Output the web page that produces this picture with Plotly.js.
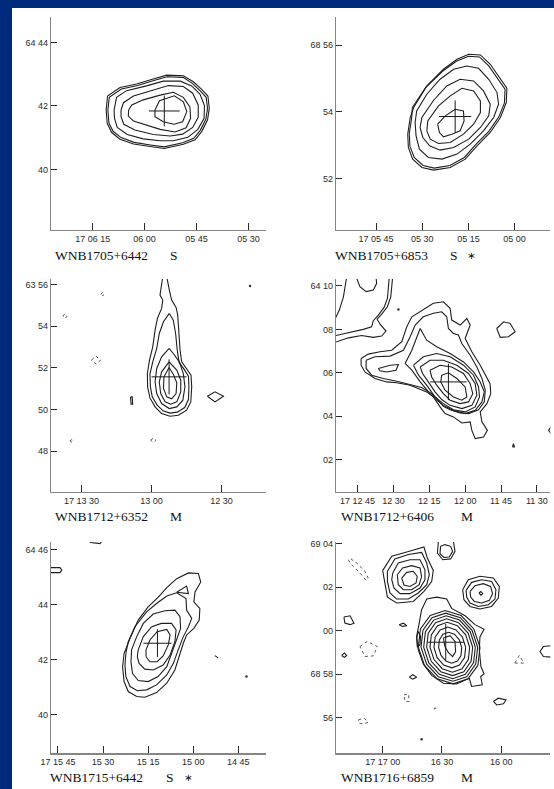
<!DOCTYPE html>
<html><head><meta charset="utf-8">
<script src="https://cdn.plot.ly/plotly-3.0.1.min.js"></script>
<style>html,body{margin:0;padding:0;background:#002a7c;}#chart{width:554px;height:789px;}</style>
</head><body><div id="chart"></div>
<script>
// ===================== DATA (RA in seconds after 17h00m, Dec in arcmin) =====================
// Panel 1: WNB1705+6442 S   (Dec arcmin after 64°00')
const p1Name = "WNB1705+6442", p1Class = "S";
const p1RaTicks = [375,360,345,330], p1RaText = ["17 06 15","06 00","05 45","05 30"];
const p1DecTicks = [44,42,40], p1DecText = ["64 44","42","40"];
const p1TopTicks = [371.6,356.8,341.9,327.1], p1RightTicks = [43.58,41.56,39.56];
const p1Ra = [
 [371.1,370.7,367.1,362.3,357.5,353.6,348.8,345.9,343.5,341.7,341.3,341.8,343.5,345.4,348.8,354.3,358.4,363.2,367.1,369.5,370.8],
 [370.6,370.2,366.7,362.0,357.3,353.5,348.9,346.2,343.9,342.2,341.8,342.3,343.9,345.8,349.0,354.3,358.3,363.0,366.8,369.1,370.3],
 [368.8,368.1,365.2,359.4,354.6,349.7,346.4,344.0,342.7,342.8,344.6,347.5,351.7,355.5,360.4,365.0,367.9,368.7],
 [366.8,366.1,363.2,357.5,353.1,348.8,346.1,344.5,344.5,346.1,349.0,352.6,357.5,362.8,366.0,366.8],
 [364.6,363.7,360.4,355.5,351.7,348.8,346.9,346.7,348.0,351.2,355.5,359.4,363.2,364.7],
 [357.0,355.7,351.4,348.8,347.8,349.0,351.5,354.6,357.0]];
const p1Dec = [
 [41.87,42.31,42.58,42.69,42.85,42.97,42.95,42.76,42.52,42.31,41.92,41.56,41.19,40.93,40.79,40.66,40.72,40.80,40.95,41.16,41.45],
 [41.87,42.27,42.53,42.64,42.80,42.92,42.90,42.71,42.47,42.27,41.92,41.58,41.23,40.98,40.84,40.71,40.77,40.85,41.00,41.20,41.46],
 [41.87,42.27,42.48,42.63,42.78,42.78,42.63,42.37,42.01,41.61,41.26,41.01,40.90,40.90,40.96,41.10,41.32,41.61],
 [41.87,42.10,42.31,42.50,42.64,42.61,42.40,42.03,41.64,41.32,41.11,41.05,41.10,41.24,41.42,41.66],
 [41.87,42.03,42.19,42.34,42.43,42.27,41.97,41.61,41.31,41.18,41.26,41.40,41.52,41.68],
 [41.87,42.16,42.32,42.13,41.82,41.50,41.42,41.50,41.66]];
const p1Peak = [354.3, 41.84];

// Panel 2: WNB1705+6853 S*   (Dec arcmin after 68°00')
const p2Name = "WNB1705+6853", p2Class = "S", p2Flag = "∗";
const p2RaTicks = [345,330,315,300], p2RaText = ["17 05 45","05 30","05 15","05 00"];
const p2DecTicks = [56,54,52], p2DecText = ["68 56","54","52"];
const p2TopTicks = [349.1,334.1,319.2,304.3], p2RightTicks = [56.41,54.41,52.41];
const p2Ra = [
 [332.8,328.5,323.1,318.7,314.9,311.1,307.9,304.1,302.5,302.7,304.6,307.9,312.2,316.0,320.9,326.3,330.1,333.1,334.5,334.7,333.9],
 [333.2,328.9,323.4,318.9,315.0,311.4,308.4,304.6,303.1,303.3,305.1,308.3,312.5,316.3,321.0,326.1,329.7,332.6,334.0,334.2,333.4],
 [332.3,331.8,328.5,324.2,319.8,315.5,311.7,308.4,305.7,305.2,306.8,310.1,314.4,318.7,323.6,328.0,330.9,332.0],
 [330.7,330.1,326.3,322.0,317.7,313.3,310.1,307.9,308.4,311.1,314.9,319.8,324.2,327.6,329.8],
 [328.5,328.2,324.7,320.9,317.1,313.3,311.1,311.1,313.3,316.6,320.9,324.7,327.4],
 [325.0,322.5,319.3,316.6,316.4,317.7,320.4,323.1,324.4]];
const p2Dec = [
 [54.13,54.78,55.28,55.58,55.73,55.71,55.43,54.93,54.71,54.28,53.83,53.38,52.98,52.58,52.33,52.25,52.33,52.58,52.93,53.33,53.83],
 [54.13,54.73,55.22,55.52,55.67,55.65,55.38,54.89,54.68,54.27,53.85,53.42,53.03,52.63,52.39,52.31,52.39,52.63,52.97,53.35,53.83],
 [53.68,54.03,54.53,54.98,55.28,55.38,55.31,54.98,54.58,54.23,53.83,53.43,53.03,52.73,52.58,52.63,52.88,53.28],
 [53.53,53.83,54.35,54.78,54.98,54.93,54.63,54.23,53.88,53.53,53.18,52.93,52.85,52.98,53.23],
 [53.43,53.73,54.18,54.48,54.71,54.63,54.33,53.98,53.63,53.33,53.08,53.05,53.18],
 [53.63,53.88,54.08,54.03,53.73,53.43,53.33,53.25,53.38]];
const p2Peak = [319.3, 53.86];

// Panel 3: WNB1712+6352 M   (RA s after 17h00m, Dec arcmin after 63°00')
const p3Name = "WNB1712+6352", p3Class = "M";
const p3RaTicks = [810,780,750], p3RaText = ["17 13 30","13 00","12 30"];
const p3DecTicks = [56,54,52,50,48], p3DecText = ["63 56","54","52","50","48"];
const p3TopTicks = [802.5,772.5,742.8], p3RightTicks = [54.96,52.98,51.01,49.01,47.04];
const p3Ra = [
 [772.4,774.9,776.7,777.8,779.5,780.7,780.5,779.7,777.7,775.1,772.1,769.0,765.8,764.2,764.0,764.2,766.1,768.2,769.0,769.7,770.7],
 [772.5,775.7,777.8,778.5,777.8,775.7,772.4,769.2,766.6,765.7,766.4,768.1,770.7],
 [772.5,775.7,776.7,776.1,774.2,771.8,769.2,767.5,767.5,769.2],
 [772.5,774.7,774.9,773.5,771.4,769.5,769.2,770.7],
 [789.0,788.3,788.1,788.8],
 [756.1,752.8,749.2,752.8]];
const p3Dec = [
 [54.61,54.21,53.65,52.93,52.29,51.70,51.09,50.61,50.23,49.94,49.83,49.88,50.10,50.48,51.09,51.60,51.94,52.26,52.85,53.65,54.29],
 [52.93,52.53,51.97,51.33,50.77,50.29,50.05,50.13,50.45,51.09,51.73,52.29,52.69],
 [52.29,51.81,51.33,50.77,50.37,50.26,50.37,50.85,51.41,51.89],
 [52.02,51.57,51.01,50.61,50.52,50.77,51.28,51.70],
 [50.61,50.61,50.26,50.26],
 [50.64,50.85,50.64,50.37]];
const p3OpenRa = [[775.2,775.7,776.4,775.2,775.7,777.5,778.5,779.5,780.9,781.8,781.7,780.7,778.5,775.7,772.1,768.5,765.0,763.2,762.8,763.1,765.0,767.1,767.8,768.4,768.8,769.5,771.4,772.4,773.2,773.5]];
const p3OpenDec = [[56.37,55.97,55.49,55.25,54.85,54.37,53.81,53.01,52.37,51.73,51.09,50.56,50.13,49.81,49.68,49.73,49.97,50.37,51.09,51.65,51.97,52.29,52.85,53.65,54.53,54.90,55.25,55.73,56.13,56.37]];
const p3NegRa = [[801.8,800.9,800.1,800.9],[818.0,817.1,816.2,817.1],[805.8,803.8,801.8,803.8],[815.0,814.2,813.5,814.2],[780.4,779.2,778.1,779.2]];
const p3NegDec = [[55.54,55.62,55.54,55.46],[54.48,54.60,54.48,54.37],[52.37,52.56,52.37,52.18],[48.50,48.56,48.50,48.44],[48.53,48.64,48.53,48.42]];
const p3Peak = [772.5, 51.57], p3Spot = [737.8, 55.92];

// Panel 4: WNB1712+6406 M   (Dec arcmin after 64°00')
const p4Name = "WNB1712+6406", p4Class = "M";
const p4RaTicks = [765,750,735,720,705,690], p4RaText = ["17 12 45","12 30","12 15","12 00","11 45","11 30"];
const p4DecTicks = [10,8,6,4,2], p4DecText = ["64 10","08","06","04","02"];
const p4TopTicks = [768.5,753.5,738.5,723.5,708.5,693.5], p4RightTicks = [9.07,7.07,5.07,3.07,1.07];
const p4Ra = [
 [763.5,760.5,755.6,750.7,746.5,744.4,742.3,737.5,733.3,729.1,726.3,725.6,722.1,719.3,717.9,720.0,717.2,713.7,711.6,709.6,709.3,710.9,713.7,713.0,710.7,712.3,715.8,717.2,717.9,721.4,724.9,728.4,730.5,733.3,736.1,738.8,743.0,748.6,752.8,757.7,761.9,763.5],
 [761.4,757.7,751.4,745.8,743.0,740.9,737.5,733.3,729.8,727.7,727.0,724.9,722.8,721.4,717.9,715.1,713.0,711.6,712.0,714.4,718.6,722.1,726.3,729.1,731.9,734.0,738.2,743.0,748.6,754.2,759.1,761.4],
 [756.3,751.4,747.9,748.9,752.8,755.6],
 [745.1,742.3,738.8,736.1,731.9,726.3,720.7,716.5,713.7,712.0,713.0,715.8,720.0,724.9,729.1,731.9,734.7,738.8,742.3],
 [741.6,737.5,731.9,726.3,720.7,716.5,714.4,714.0,715.8,720.0,724.9,729.1,732.6,736.1,739.5],
 [738.8,734.7,729.1,723.5,718.6,715.8,715.1,717.2,721.4,726.3,729.8,732.6,735.4,737.8],
 [734.7,730.5,725.6,720.7,717.9,716.8,718.6,722.1,726.3,729.1,731.9,734.0],
 [729.8,727.0,723.5,720.0,719.3,721.4,724.9,728.4,730.2],
 [706.8,703.9,701.2,699.1,701.9,705.3],
 [700.2,699.8,699.4]];
const p4Dec = [
 [6.66,6.86,6.97,7.04,7.43,8.12,8.58,8.92,9.20,9.27,8.97,8.43,8.20,8.50,8.20,7.58,6.97,6.35,5.89,5.50,5.04,4.58,4.20,3.74,3.35,3.04,2.97,3.35,3.74,3.69,3.97,4.12,4.43,4.89,5.12,5.23,5.43,5.54,5.58,5.74,6.04,6.35],
 [6.58,6.74,6.77,7.04,7.66,8.20,8.58,8.74,8.81,8.58,8.04,7.81,7.74,7.35,6.81,6.27,5.74,5.20,4.66,4.30,4.12,4.15,4.30,4.46,4.81,5.04,5.32,5.47,5.61,5.74,5.89,6.20],
 [6.20,6.35,6.38,6.12,6.04,6.09],
 [6.43,7.04,8.04,7.50,7.20,6.89,6.50,6.04,5.58,5.12,4.66,4.27,4.12,4.27,4.50,4.74,5.04,5.58,6.12],
 [6.35,6.74,6.89,6.74,6.35,5.89,5.35,4.89,4.43,4.20,4.30,4.58,4.89,5.43,5.89],
 [6.27,6.58,6.58,6.35,5.97,5.50,4.97,4.50,4.35,4.50,4.77,5.12,5.58,5.97],
 [6.12,6.35,6.27,5.97,5.50,5.04,4.66,4.58,4.74,5.04,5.43,5.81],
 [5.89,6.00,5.74,5.35,4.89,4.74,4.89,5.20,5.58],
 [8.04,8.35,8.27,7.89,7.66,7.63],
 [2.58,2.74,2.58]];
const p4OpenRa = [
 [775.0,768.8,763.3,758.4,754.9,753.1,755.6,756.8,754.9,752.5,751.1,750.6,750.3],
 [775.0,768.1,762.6,759.1,758.4,756.3,753.9,752.5,752.0,751.7],
 [775.0,772.6,770.9,769.8,769.5],
 [765.6,764.0,761.4,758.4,757.0,757.3],
 [683.7,685.1,683.7]];
const p4OpenDec = [
 [7.38,7.61,7.72,7.63,7.69,7.92,8.24,8.47,8.70,9.04,9.50,9.97,10.43],
 [7.69,7.86,8.00,8.12,8.40,8.66,9.01,9.43,9.89,10.43],
 [8.35,8.89,9.50,10.12,10.43],
 [10.43,9.97,9.74,9.81,10.12,10.43],
 [3.58,3.35,3.12]];
const p4Peak = [727.0, 5.58], p4Spot = [747.9, 8.92];

// Panel 5: WNB1715+6442 S*   (Dec arcmin after 64°00')
const p5Name = "WNB1715+6442", p5Class = "S", p5Flag = "∗";
const p5RaTicks = [945,930,915,900,885], p5RaText = ["17 15 45","15 30","15 15","15 00","14 45"];
const p5DecTicks = [46,44,42,40], p5DecText = ["64 46","44","42","40"];
const p5TopTicks = [937.9,922.9,907.9,892.9,877.9], p5RightTicks = [45.19,43.17,41.17,39.16];
const p5Ra = [
 [923.0,921.0,918.3,915.0,911.7,908.8,905.5,901.6,898.3,897.5,899.4,899.8,897.8,898.0,899.8,902.2,903.3,904.6,906.1,908.8,912.2,916.1,918.8,921.6,923.0,923.5],
 [922.4,921.6,919.4,915.5,912.2,908.8,905.5,902.4,902.2,900.5,901.6,903.3,905.0,906.6,908.8,912.2,915.5,918.6,921.0,922.4,922.7],
 [905.5,902.2,901.6],
 [920.7,920.5,918.8,916.6,913.3,909.4,906.1,904.4,904.2,905.5,907.2,908.8,911.7,915.0,918.3,920.2],
 [918.6,918.3,916.6,913.8,910.6,907.2,905.7,906.1,907.7,910.0,913.3,916.1,918.0],
 [915.7,915.7,914.4,912.0,908.8,907.7,908.3,910.0,912.0,914.4]];
const p5Dec = [
 [42.23,42.78,43.44,43.92,44.26,44.62,44.94,45.15,45.13,44.82,44.46,44.10,43.86,43.44,43.14,42.90,42.60,42.11,41.63,41.15,40.81,40.64,40.67,40.85,41.21,41.75],
 [42.23,42.66,43.20,43.74,44.04,44.31,44.43,44.22,43.80,43.50,43.20,42.84,42.36,41.87,41.45,41.09,40.91,40.88,41.03,41.39,41.81],
 [44.45,44.67,44.40],
 [41.93,42.36,42.84,43.32,43.66,43.78,43.80,43.56,43.14,42.72,42.23,41.75,41.39,41.21,41.25,41.51],
 [42.11,42.36,42.84,43.20,43.32,43.32,43.08,42.66,42.17,41.81,41.63,41.66,41.87],
 [42.11,42.36,42.72,43.02,43.10,42.90,42.54,42.14,41.93,41.93]];
const p5OpenRa = [[934.9,934.1,931.0,930.3],[947.8,944.3,943.7,944.3,947.8],[892.8,891.7]];
const p5OpenDec = [[46.35,46.25,46.21,46.31],[45.34,45.34,45.25,45.16,45.16],[42.15,42.07]];
const p5Peak = [911.9, 42.60], p5Spot = [882.3, 41.39];

// Panel 6: WNB1716+6859 M   (Dec arcmin relative to 69°00')
const p6Name = "WNB1716+6859", p6Class = "M";
const p6RaTicks = [1020,990,960], p6RaText = ["17 17 00","16 30","16 00"];
const p6DecTicks = [4,2,0,-2,-4], p6DecText = ["69 04","02","00","68 58","56"];
const p6TopTicks = [1018.0,987.6,958.1], p6RightTicks = [2.12,0.12,-1.88,-3.85];
const p6Ra = [
 [1000.3,997.7,992.7,987.6,985.1,978.3,973.3,968.7,970.8,971.1,970.3,968.7,970.4,969.6,975.0,976.2,982.6,989.3,995.2,999.4,1002.0,1002.8,1001.5],
 [970.76,973.86,980.31,988.38,995.91,1000.88,1001.96,998.86,992.41,984.34,976.81,971.84],
 [971.94,974.79,980.70,988.12,995.04,999.61,1000.60,997.75,991.84,984.42,977.50,972.93],
 [973.12,975.72,981.11,987.88,994.19,998.36,999.26,996.66,991.27,984.50,978.19,974.02],
 [974.46,976.78,981.60,987.62,993.24,996.94,997.74,995.42,990.60,984.58,978.96,975.26],
 [975.99,978.01,982.17,987.37,992.21,995.39,996.05,994.03,989.87,984.67,979.83,976.65],
 [978.01,979.59,982.88,987.03,990.90,993.47,994.03,992.45,989.16,985.01,981.14,978.57],
 [980.03,981.23,983.67,986.69,989.49,991.31,991.67,990.47,988.03,985.01,982.21,980.39],
 [989.3,985.9,983.4,983.1,984.6,986.8,988.5],
 [1020.0,1015.4,1007.8,999.1,997.4,994.4,995.2,999.1,1004.5,1012.9,1017.6,1018.8],
 [1017.6,1013.8,1007.0,1000.3,997.7,996.4,997.7,1002.0,1007.0,1012.9,1016.3,1017.6],
 [1014.9,1012.1,1006.2,1001.1,998.6,998.6,1001.1,1006.2,1011.2,1014.3,1015.4],
 [1012.6,1009.9,1005.3,1001.1,1000.3,1001.5,1005.3,1009.5,1012.1],
 [1010.4,1007.8,1004.5,1002.5,1003.1,1006.2,1009.2],
 [979.5,976.7,970.8,964.0,961.0,961.5,964.9,970.8,975.8,978.9],
 [977.8,975.0,969.9,964.9,962.7,963.2,966.5,971.6,975.8,977.5],
 [975.8,973.3,969.1,965.4,964.4,966.0,969.9,973.6,975.5],
 [971.3,970.3,969.4,970.3],
 [990.7,991.0,989.0,986.3,984.6,985.6,988.5],
 [1039.6,1036.5,1034.5,1036.5,1039.1],
 [1040.7,1039.4,1038.2,1039.4],
 [1011.7,1009.5,1007.8,1009.9],
 [1002.0,1002.8,1002.5,1001.1,1000.8],
 [1006.5,1004.8,1002.8,1004.8],
 [964.0,961.5,957.6,958.9,962.3]];
const p6Dec = [
 [0.97,1.46,1.55,1.46,1.03,0.69,0.28,0.07,-0.29,-0.88,-1.65,-1.99,-2.11,-2.49,-2.57,-2.19,-2.45,-2.42,-2.06,-1.53,-0.88,-0.26,0.35],
 [-0.76,0.08,0.70,0.93,0.70,0.08,-0.76,-1.60,-2.22,-2.45,-2.22,-1.60],
 [-0.76,0.02,0.60,0.81,0.60,0.02,-0.76,-1.54,-2.12,-2.33,-2.12,-1.54],
 [-0.76,-0.04,0.49,0.69,0.49,-0.04,-0.76,-1.48,-2.01,-2.21,-2.01,-1.48],
 [-0.76,-0.11,0.37,0.55,0.37,-0.11,-0.76,-1.41,-1.89,-2.07,-1.89,-1.41],
 [-0.76,-0.19,0.23,0.39,0.23,-0.19,-0.76,-1.33,-1.75,-1.91,-1.75,-1.33],
 [-0.77,-0.30,0.04,0.17,0.04,-0.30,-0.77,-1.24,-1.58,-1.71,-1.58,-1.24],
 [-0.78,-0.42,-0.16,-0.07,-0.16,-0.42,-0.78,-1.14,-1.40,-1.50,-1.40,-1.14],
 [-0.34,-0.23,-0.49,-0.96,-1.19,-1.00,-0.73],
 [2.77,3.43,3.63,3.86,3.35,2.78,2.27,1.81,1.35,1.28,1.55,2.12],
 [2.74,3.31,3.51,3.61,3.12,2.58,2.12,1.74,1.46,1.46,1.74,2.27],
 [2.66,3.12,3.27,3.27,2.81,2.35,1.97,1.71,1.71,1.97,2.35],
 [2.58,2.89,3.00,2.89,2.51,2.12,1.89,1.89,2.12],
 [2.43,2.69,2.74,2.51,2.20,2.04,2.11],
 [1.89,2.35,2.51,2.43,2.04,1.51,1.12,1.00,1.12,1.43],
 [1.86,2.23,2.35,2.27,1.89,1.46,1.20,1.12,1.28,1.55],
 [1.81,2.07,2.17,2.04,1.71,1.40,1.28,1.35,1.55],
 [1.74,1.81,1.71,1.64],
 [3.89,3.55,3.38,3.40,3.66,3.89,3.97],
 [0.63,0.69,0.35,0.28,0.35],
 [-1.14,-1.03,-1.14,-1.23],
 [0.28,0.35,0.23,0.20],
 [-0.03,-0.34,-0.73,-0.65,-0.26],
 [-2.14,-2.03,-2.14,-2.23],
 [-3.26,-3.11,-3.19,-3.37,-3.42]];
const p6OpenRa = [[991.8,992.3,989.6,985.6,983.4,984.2],[934.5,938.7,940.4,938.7,934.5]];
const p6OpenDec = [[4.12,3.58,3.27,3.31,3.66,4.12],[-0.69,-0.73,-0.96,-1.19,-1.22]];
const p6NegRa = [[1037.4,1035.7,1031.5,1028.4,1027.3,1028.9,1033.2,1036.2],[1031.5,1027.8,1022.7,1024.7,1028.9],[1009.2,1007.0,1006.5,1008.7],[953.1,950.9,948.5],[1032.3,1029.4,1027.3,1029.8,1032.0],[994.0,993.5,993.0,993.5]];
const p6NegDec = [[3.27,3.04,2.66,2.32,2.43,2.74,3.12,3.32],[-0.73,-0.49,-0.73,-1.16,-1.19],[-2.96,-2.91,-3.26,-3.26],[-1.49,-1.14,-1.49],[-4.11,-4.03,-4.22,-4.30,-4.26],[-3.61,-3.55,-3.61,-3.67]];
const p6Peak = [988.1, -0.53], p6Spot = [1000.3, -5.0];

// ===================== LAYOUT / STYLE =====================
const W = 554, H = 789;
const BLUE = "#002a7c";
const LINE = "#1e1e1e", NEG = "#5a5a5a", AXIS = "#858585", TICK = "#2a2a2a";
// panel boxes in page pixels: [left, right, top, bottom]
const BOX = [[51,265.7,16.7,230],[336,550.3,16.7,230],[51,265.7,279,492],[336,550.3,279,492],[51,265.7,542,753.3],[336,550.3,542,753.3]];
const RANGES = [
  {x:[387.04,325.0], y:[38.09,44.81]},
  {x:[358.0,288.4], y:[50.45,56.86]},
  {x:[823.1,731.1], y:[46.05,56.26]},
  {x:[774.0,684.4], y:[0.51,10.32]},
  {x:[947.3,875.9], y:[38.61,46.27]},
  {x:[1043.6,935.2], y:[-5.65,4.09]}];

const panels = [
 {name:p1Name, cls:p1Class, flag:"", rt:p1RaTicks, rtx:p1RaText, dt:p1DecTicks, dtx:p1DecText, top:p1TopTicks, right:p1RightTicks,
  ra:p1Ra, dec:p1Dec, ora:[], odec:[], nra:[], ndec:[], peak:p1Peak, spot:null, cross:22, lab:[53,168,255]},
 {name:p2Name, cls:p2Class, flag:p2Flag, rt:p2RaTicks, rtx:p2RaText, dt:p2DecTicks, dtx:p2DecText, top:p2TopTicks, right:p2RightTicks,
  ra:p2Ra, dec:p2Dec, ora:[], odec:[], nra:[], ndec:[], peak:p2Peak, spot:null, cross:23, lab:[333.3,447.7,255.7,465]},
 {name:p3Name, cls:p3Class, flag:"", rt:p3RaTicks, rtx:p3RaText, dt:p3DecTicks, dtx:p3DecText, top:p3TopTicks, right:p3RightTicks,
  ra:p3Ra, dec:p3Dec, ora:p3OpenRa, odec:p3OpenDec, nra:p3NegRa, ndec:p3NegDec, peak:p3Peak, spot:p3Spot, cross:25, lab:[53.3,168.3,516]},
 {name:p4Name, cls:p4Class, flag:"", rt:p4RaTicks, rtx:p4RaText, dt:p4DecTicks, dtx:p4DecText, top:p4TopTicks, right:p4RightTicks,
  ra:p4Ra, dec:p4Dec, ora:p4OpenRa, odec:p4OpenDec, nra:[], ndec:[], peak:p4Peak, spot:p4Spot, cross:26, lab:[339.3,459,516]},
 {name:p5Name, cls:p5Class, flag:p5Flag, rt:p5RaTicks, rtx:p5RaText, dt:p5DecTicks, dtx:p5DecText, top:p5TopTicks, right:p5RightTicks,
  ra:p5Ra, dec:p5Dec, ora:p5OpenRa, odec:p5OpenDec, nra:[], ndec:[], peak:p5Peak, spot:p5Spot, cross:20, lab:[47.7,164.3,777.7,181.7]},
 {name:p6Name, cls:p6Class, flag:"", rt:p6RaTicks, rtx:p6RaText, dt:p6DecTicks, dtx:p6DecText, top:p6TopTicks, right:p6RightTicks,
  ra:p6Ra, dec:p6Dec, ora:p6OpenRa, odec:p6OpenDec, nra:p6NegRa, ndec:p6NegDec, peak:p6Peak, spot:p6Spot, cross:26, lab:[339.3,459,777.7]}
];

const traces = [];
const layout = {
  width: W, height: H, margin:{l:0,r:0,t:0,b:0,pad:0},
  paper_bgcolor: BLUE, plot_bgcolor: "#ffffff", showlegend:false,
  shapes:[{type:"rect", xref:"paper", yref:"paper", x0:12/W, x1:1, y0:0, y1:(H-8)/H, fillcolor:"#ffffff", line:{width:0}, layer:"below"}],
  annotations: []
};
const tickFont = {family:"Liberation Sans, Arial, sans-serif", size:9, color:"#2a2a2a"};
const labFont = {family:"Liberation Serif, Times New Roman, serif", size:13.5, color:"#111"};

function close(a){ return a.concat([a[0]]); }

panels.forEach((p, i) => {
  const n = i + 1;
  const xa = n === 1 ? "x" : "x" + n, ya = n === 1 ? "y" : "y" + n;
  const b = BOX[i], r = RANGES[i];
  const xd = [b[0]/W, b[1]/W], yd = [1 - b[3]/H, 1 - b[2]/H];
  p.ra.forEach((ra, k) => traces.push({type:"scatter", mode:"lines", x:close(ra), y:close(p.dec[k]), xaxis:xa, yaxis:ya,
      line:{color:LINE, width:1.1}, hoverinfo:"skip"}));
  p.ora.forEach((ra, k) => traces.push({type:"scatter", mode:"lines", x:ra, y:p.odec[k], xaxis:xa, yaxis:ya,
      line:{color:LINE, width:1.1}, hoverinfo:"skip"}));
  p.nra.forEach((ra, k) => traces.push({type:"scatter", mode:"lines", x:close(ra), y:close(p.ndec[k]), xaxis:xa, yaxis:ya,
      line:{color:NEG, width:1, dash:"dot"}, hoverinfo:"skip"}));
  traces.push({type:"scatter", mode:"markers", x:[p.peak[0]], y:[p.peak[1]], xaxis:xa, yaxis:ya,
      marker:{symbol:"cross-thin", size:p.cross, line:{color:"#1a1a1a", width:1}}, hoverinfo:"skip"});
  if (p.spot) traces.push({type:"scatter", mode:"markers", x:[p.spot[0]], y:[p.spot[1]], xaxis:xa, yaxis:ya,
      marker:{symbol:"circle", size:2.5, color:"#333"}, hoverinfo:"skip"});

  const common = {showgrid:false, zeroline:false, showline:true, linecolor:AXIS, linewidth:1.2, mirror:false,
    ticks:"inside", tickcolor:TICK, tickwidth:1, tickfont:tickFont, fixedrange:true, autorange:false};
  layout[(n===1?"xaxis":"xaxis"+n)] = Object.assign({}, common, {domain:xd, anchor:ya, range:r.x, side:"bottom",
    tickmode:"array", tickvals:p.rt, ticktext:p.rtx, ticklen:7});
  layout[(n===1?"yaxis":"yaxis"+n)] = Object.assign({}, common, {domain:yd, anchor:xa, range:r.y, side:"left",
    tickmode:"array", tickvals:p.dt, ticktext:p.dtx, ticklen:6});
  layout["xaxis" + (n+6)] = Object.assign({}, common, {overlaying:xa, anchor:ya, range:r.x, side:"top",
    tickmode:"array", tickvals:p.top, showticklabels:false, ticklen:7});
  layout["yaxis" + (n+6)] = Object.assign({}, common, {overlaying:ya, anchor:xa, range:r.y, side:"right",
    tickmode:"array", tickvals:p.right, showticklabels:false, ticklen:6});

  const ly = 1 - p.lab[2]/H;
  layout.annotations.push({xref:"paper", yref:"paper", x:p.lab[0]/W, y:ly, xanchor:"left", yanchor:"middle",
    text:p.name, showarrow:false, font:labFont});
  layout.annotations.push({xref:"paper", yref:"paper", x:p.lab[1]/W, y:ly, xanchor:"left", yanchor:"middle",
    text:p.cls, showarrow:false, font:labFont});
  if (p.flag) layout.annotations.push({xref:"paper", yref:"paper", x:p.lab[3]/W, y:ly, xanchor:"left", yanchor:"middle",
    text:p.flag, showarrow:false, font:{family:"DejaVu Sans, sans-serif", size:10, color:"#111"}});
});

Plotly.newPlot("chart", traces, layout, {staticPlot:true, displayModeBar:false});
</script>
</body></html>
